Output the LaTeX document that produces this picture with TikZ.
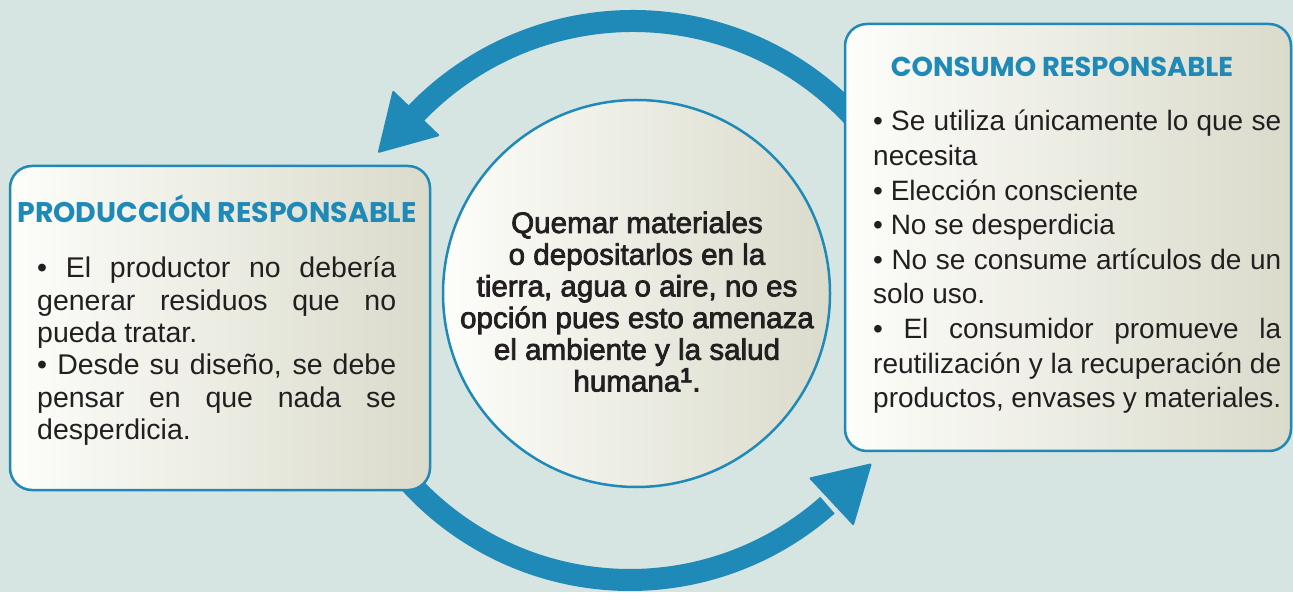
\documentclass[tikz,border=0pt]{standalone}
\usepackage{fontspec}
\setmainfont{Liberation Sans}
\newfontfamily\titlefont{Poppins}
\newfontfamily\medfont{Liberation Sans}[FakeBold=2.5]
\usetikzlibrary{calc}
\definecolor{bg}{RGB}{214,228,226}
\definecolor{ablue}{RGB}{31,137,183}
\definecolor{txt}{RGB}{35,31,32}
\definecolor{gl}{RGB}{253,253,250}
\definecolor{gr}{RGB}{218,219,203}
\tolerance=10000 \hbadness=10000
\begin{document}
\begin{tikzpicture}[x=1pt,y=1pt,
  card/.style={draw=ablue, line width=2.5pt, rounded corners=22pt, left color=gl, right color=gr, inner sep=0pt},
  disc/.style={circle, draw=ablue, line width=2.5pt, left color=gl, right color=gr, inner sep=0pt},
  ttl/.style={anchor=base, text=ablue, font=\titlefont\bfseries\fontsize{28.4}{30}\selectfont, inner sep=0pt},
  body/.style={anchor=base west, text=txt, inner sep=0pt},
  shaft/.style={draw=ablue, line width=22pt},
  head/.style={fill=ablue, rounded corners=2pt}]
\fill[bg] (0,0) rectangle (1293,592);
\useasboundingbox (0,0) rectangle (1293,592);
% arrows
\coordinate (topc) at (633,270);
\coordinate (topS) at ($(topc)+(40:301)$);
\coordinate (topB) at ($(topc)+(136:301)$);
\draw[shaft] (topS) arc[start angle=40,end angle=137,radius=301];
\fill[head] ($(topB)+(136:33)$) -- ($(topB)+(226:56)$) -- ($(topB)+(316:33)$) -- cycle;
\coordinate (botc) at (630,310);
\coordinate (botS) at ($(botc)+(215:298)$);
\coordinate (botB) at ($(botc)+(312.5:298)$);
\draw[shaft] (botS) arc[start angle=215,end angle=311.5,radius=298];
\fill[head] ($(botB)+(312.5:33)$) -- ($(botB)+(43.5:56)$) -- ($(botB)+(133.5:33)$) -- cycle;
% boxes
\node[card, minimum width=420pt, minimum height=324pt] (prod) at (220,264) {};
\node[card, minimum width=446pt, minimum height=427pt] (cons) at (1068,354.5) {};
\node[disc, minimum size=387pt] (circ) at (636.5,298.5) {};
% titles
\node[ttl] (prodT) at (217,369) {PRODUCCIÓN RESPONSABLE};
\node[ttl, font=\titlefont\bfseries\fontsize{27.3}{30}\selectfont] (consT) at (1062,515) {CONSUMO RESPONSABLE};
% bodies
\node[body] (prodB) at (37,314) {\parbox[t]{359pt}{\fontsize{28.5}{32.3}\selectfont
• El productor no debería\linebreak generar residuos que no\linebreak pueda tratar.\par
• Desde su diseño, se debe\linebreak pensar en que nada se\linebreak desperdicia.}};
\node[body] (consB) at (873,461) {\parbox[t]{408pt}{\fontsize{28}{34.6}\selectfont
• Se utiliza únicamente lo que se\linebreak necesita\par
• Elección consciente\par
• No se desperdicia\par
• No se consume artículos de un\linebreak solo uso.\par
• El consumidor promueve la\linebreak reutilización y la recuperación de\linebreak productos, envases y materiales.}};
\node[anchor=base, inner sep=0pt, text=txt] (circT) at (637,359) {\parbox[t]{380pt}{\centering\medfont\fontsize{29.6}{31.7}\selectfont
Quemar materiales\\ o depositarlos en la\\ tierra, agua o aire, no es\\ opción pues esto amenaza\\ el ambiente y la salud\\ humana\textsuperscript{\bfseries 1}.}};
\end{tikzpicture}
\end{document}
